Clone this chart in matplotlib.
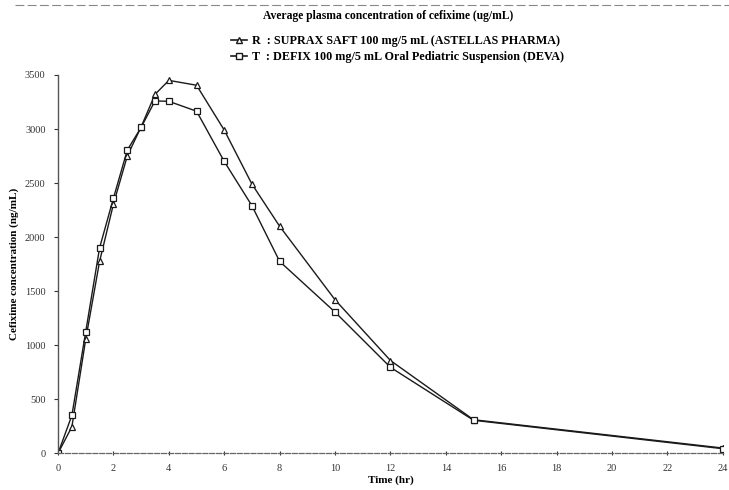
import numpy as np
import matplotlib
matplotlib.use("Agg")
import matplotlib.pyplot as plt
from matplotlib.lines import Line2D

# time points (hr)
time_hr = [0, 0.5, 1, 1.5, 2, 2.5, 3, 3.5, 4, 5, 6, 7, 8, 10, 12, 15, 24]

# R : SUPRAX (triangles)
conc_r = [0, 245, 1055, 1775, 2305, 2750, 3020, 3320, 3450, 3405, 2990, 2490, 2100, 1420, 858, 310, 48]
# T : DEFIX (squares)
conc_t = [0, 350, 1125, 1900, 2360, 2805, 3015, 3260, 3256, 3165, 2700, 2290, 1775, 1306, 795, 305, 42]

label_r = "R  : SUPRAX SAFT 100 mg/5 mL (ASTELLAS PHARMA)"
label_t = "T  : DEFIX 100 mg/5 mL Oral Pediatric Suspension (DEVA)"
x_ticks = list(range(0, 25, 2))
y_ticks = list(range(0, 3501, 500))

plt.rcParams['font.family'] = ['Liberation Serif', 'DejaVu Serif']

fig = plt.figure(figsize=(7.29, 4.9), dpi=100)
ax = fig.add_axes([0.0796, 0.075, 0.912, 0.772])

ax.plot(time_hr, conc_r, color="#1a1a1a", lw=1.0, marker="^", ms=5,
        mfc="white", mec="#1a1a1a", mew=0.9, label=label_r)
ax.plot(time_hr, conc_t, color="#1a1a1a", lw=1.0, marker="s", ms=4.2,
        mfc="white", mec="#1a1a1a", mew=0.9, label=label_t)

ax.set_xlim(0, 24)
ax.set_ylim(0, 3500)
ax.set_xticks(x_ticks)
ax.set_yticks(y_ticks)
ax.tick_params(axis="both", labelsize=7.5, length=3, width=0.8, color="#333333",
               labelcolor="#333333")
ax.tick_params(axis="x", direction="inout", pad=6)
ax.tick_params(axis="y", direction="out", pad=6)

for s in ["top", "right"]:
    ax.spines[s].set_visible(False)
ax.spines["left"].set_color("#555555")
ax.spines["left"].set_linewidth(1.0)
ax.spines["bottom"].set_color("#666666")
ax.spines["bottom"].set_linewidth(0.9)
ax.spines["bottom"].set_linestyle((0, (4, 1.5)))

ax.set_xlabel("Time (hr)", fontsize=8, fontweight="bold", labelpad=2)
ax.set_ylabel("Cefixime concentration (ng/mL)", fontsize=8, fontweight="bold",
              labelpad=4)

fig.text(0.532, 0.968, "Average plasma concentration of cefixime (ug/mL)",
         ha="center", va="center", fontsize=8.4, fontweight="bold")

handles = [Line2D([], [], color="#1a1a1a", lw=1.2, marker="^", ms=4.5, mfc="white", mec="#1a1a1a"),
           Line2D([], [], color="#1a1a1a", lw=1.2, marker="s", ms=3.8, mfc="white", mec="#1a1a1a")]
fig.legend(handles, [label_r, label_t], loc="center left", bbox_to_anchor=(0.302, 0.9),
           frameon=False, handlelength=1.3, handletextpad=0.4,
           labelspacing=0.3, prop={"weight": "bold", "size": 8.7})

# scan edge line at top
fig.add_artist(Line2D([0.02, 1.0], [0.99, 0.99], color="#888888", lw=0.8,
                      ls=(0, (8, 3)), transform=fig.transFigure))

fig.savefig("out.png", dpi=100)
